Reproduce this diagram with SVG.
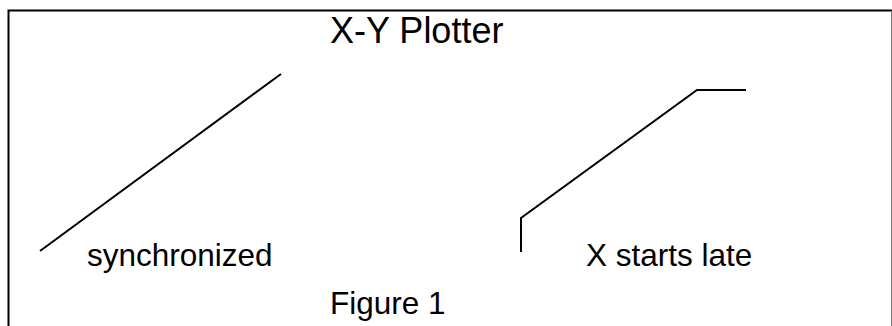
<svg xmlns="http://www.w3.org/2000/svg" width="892" height="326" viewBox="0 0 892 326">
<style>
.ln{fill:none;stroke:#000;stroke-width:2;stroke-linejoin:miter}
.t{font-family:"Liberation Sans",Arial,sans-serif;fill:#000}
.lb{font-size:31.5px}
</style>
<rect width="892" height="326" fill="#fff"/>
<g id="frame">
<path class="ln" d="M8.5,326 V10.5 H892"/>
<line x1="891.5" y1="10.5" x2="891.5" y2="326" stroke="#777" stroke-width="1"/>
</g>
<g id="title"><text class="t" x="330" y="43" font-size="36">X-Y Plotter</text></g>
<g id="connectors">
<line id="sync-line" class="ln" x1="40" y1="251" x2="281" y2="74"/>
<polyline id="late-line" class="ln" points="521,252 521,218 697,90 746,90"/>
</g>
<g id="label-sync"><text class="t lb" x="87" y="266">synchronized</text></g>
<g id="label-late"><text class="t lb" x="586" y="266">X starts late</text></g>
<g id="caption"><text class="t lb" x="330" y="314">Figure 1</text></g>
</svg>
